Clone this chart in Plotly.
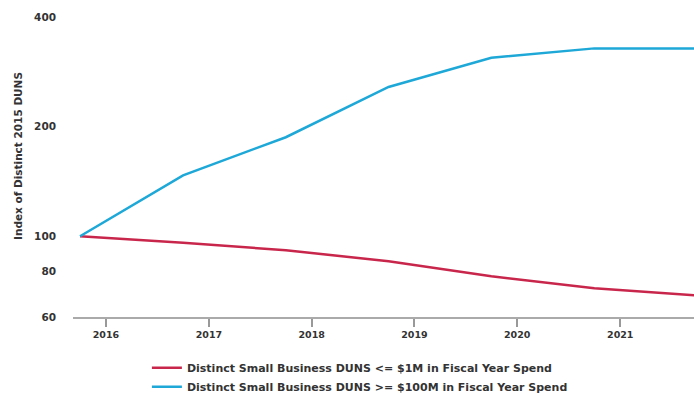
import plotly.graph_objects as go

# Fiscal years (points placed at the start of each fiscal year)
fiscal_dates = ["2015-10-01", "2016-10-01", "2017-10-01", "2018-10-01",
                "2019-10-01", "2020-10-01", "2021-10-01"]

# Index of distinct small-business DUNS, 2015 = 100
small_spend_index = [100, 96, 91.5, 85.4, 77.6, 72, 68.8]
large_spend_index = [100, 147, 187, 257, 309, 328, 328]

series_names = [
    "Distinct Small Business DUNS <= $1M in Fiscal Year Spend",
    "Distinct Small Business DUNS >= $100M in Fiscal Year Spend",
]
y_title = "Index of Distinct 2015 DUNS"
y_ticks = [60, 80, 100, 200, 400]
x_ticks = ["2016-01-01", "2017-01-01", "2018-01-01", "2019-01-01",
           "2020-01-01", "2021-01-01"]
x_tick_text = ["2016", "2017", "2018", "2019", "2020", "2021"]

RED = "#C9264C"
BLUE = "#1EA8D8"
FONT = "DejaVu Sans"
TEXT = "#333333"

fig = go.Figure()
fig.add_trace(go.Scatter(x=fiscal_dates, y=small_spend_index, mode="lines",
                         name=series_names[0],
                         line=dict(color=RED, width=2.5)))
fig.add_trace(go.Scatter(x=fiscal_dates, y=large_spend_index, mode="lines",
                         name=series_names[1],
                         line=dict(color=BLUE, width=2.5)))

fig.update_layout(
    width=694, height=396,
    margin=dict(l=73, r=0, t=17, b=79, autoexpand=False),
    paper_bgcolor="white", plot_bgcolor="white",
    font=dict(family=FONT, size=10, color=TEXT, weight="bold"),
    showlegend=True,
    legend=dict(orientation="v", x=0.119, xanchor="left",
                yref="container", y=0.108, yanchor="top",
                font=dict(family=FONT, size=11, color=TEXT, weight="bold"),
                itemwidth=30, tracegroupgap=0,
                bgcolor="rgba(0,0,0,0)"),
)

# Vertical axis title, placed a little above the plot's midline
fig.add_annotation(
    text=y_title, textangle=-90, showarrow=False,
    xref="paper", yref="paper", x=-0.0885, y=0.537,
    xanchor="center", yanchor="middle",
    font=dict(family=FONT, size=10.5, color=TEXT, weight="bold"),
)

fig.update_xaxes(
    type="date",
    range=["2015-09-06", "2021-09-20"],
    tickvals=x_ticks, ticktext=x_tick_text,
    ticks="outside", ticklen=8, tickwidth=1.5, tickcolor="#999999",
    showline=True, linecolor="#AAAAAA", linewidth=1.5,
    showgrid=False, zeroline=False,
    tickfont=dict(family=FONT, size=9.5, color=TEXT, weight="bold"),
)

fig.update_yaxes(
    type="log",
    range=[1.77815, 2.60206],
    tickvals=y_ticks, ticktext=[str(v) for v in y_ticks],
    ticks="", showline=False, showgrid=False, zeroline=False,
    ticklabelstandoff=16,
    tickfont=dict(family=FONT, size=10.5, color=TEXT, weight="bold"),
)

fig.write_html("out.html")
